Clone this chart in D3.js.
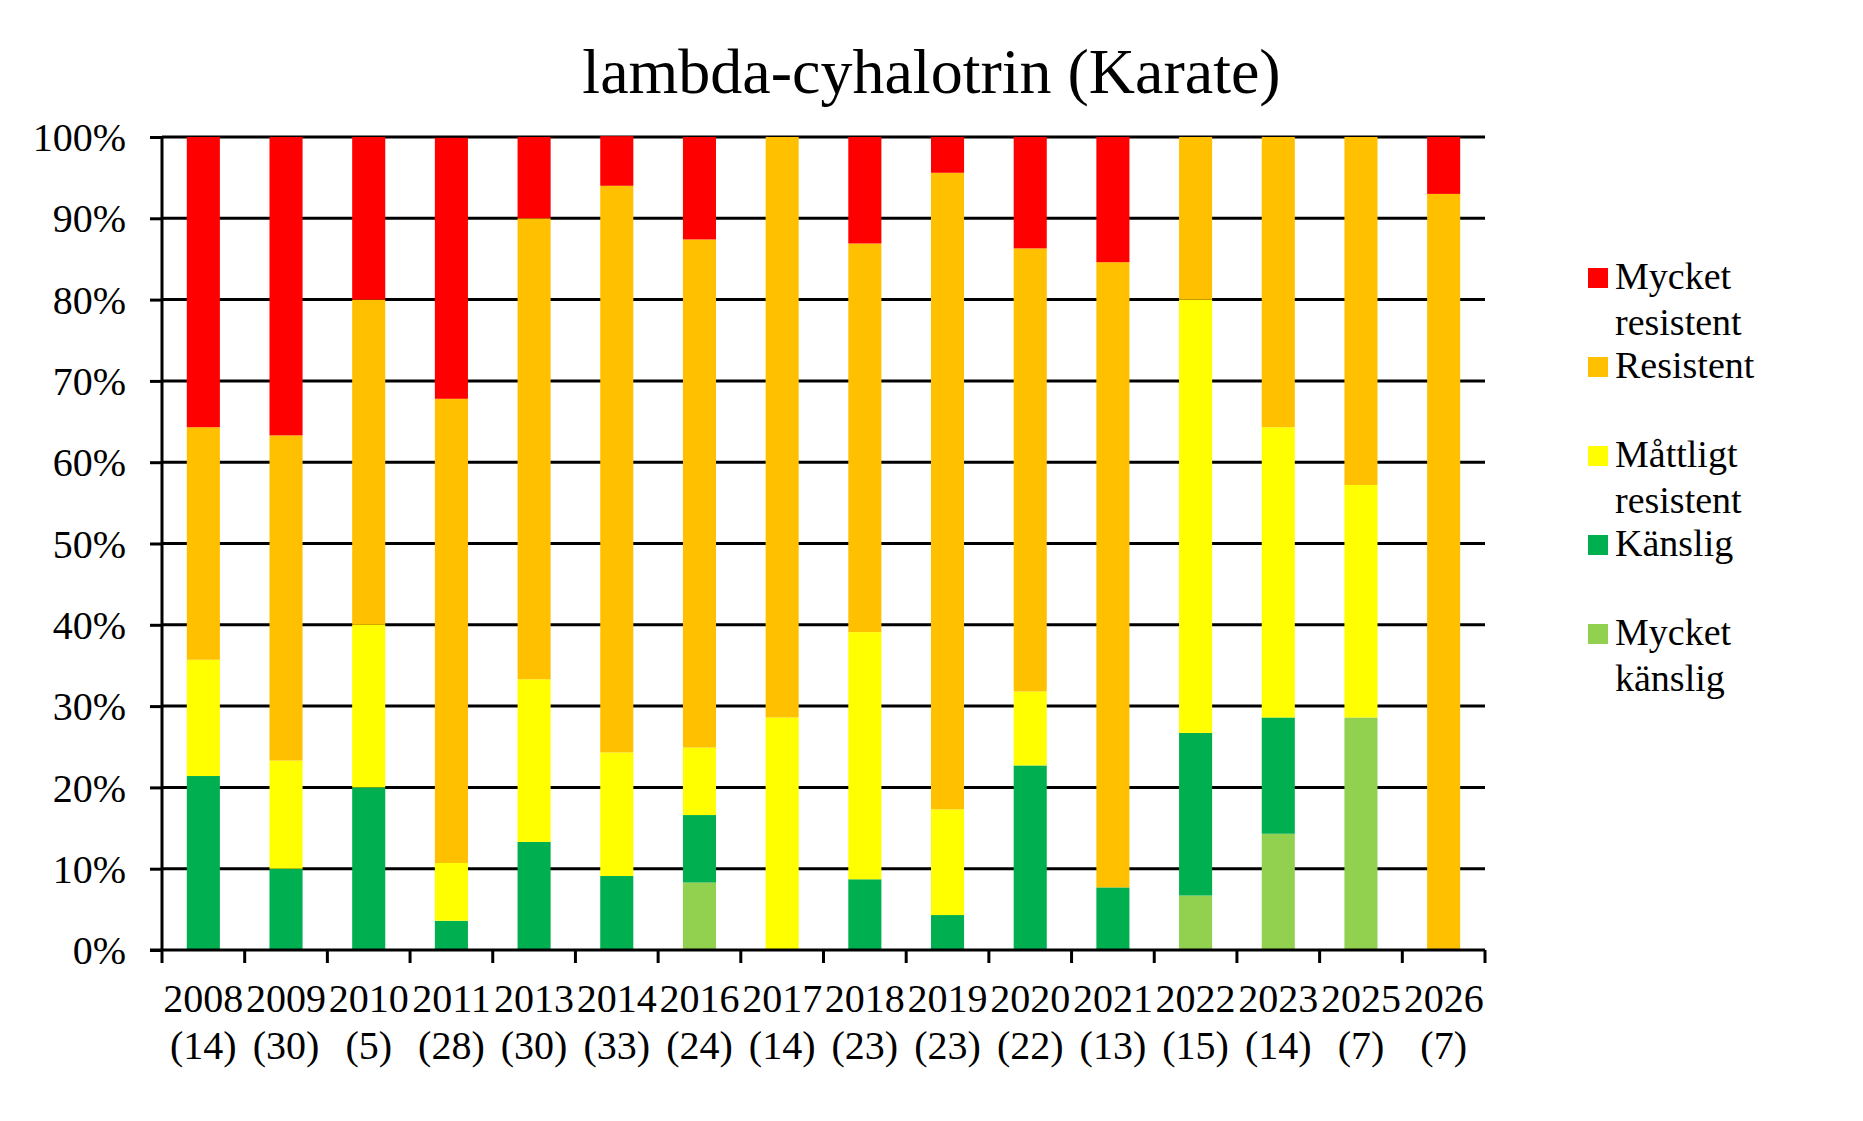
<!DOCTYPE html>
<html>
<head>
<meta charset="utf-8">
<script src="https://cdn.jsdelivr.net/npm/d3@7"></script>
<style>
  body { margin: 0; background: #fff; }
  text { font-family: "Liberation Serif", "Times New Roman", serif; fill: #000; }
</style>
</head>
<body>
<div id="chart"></div>
<script>
// years and sample sizes (n)
const years = ["2008","2009","2010","2011","2013","2014","2016","2017","2018","2019","2020","2021","2022","2023","2025","2026"];
const counts = [14, 30, 5, 28, 30, 33, 24, 14, 23, 23, 22, 13, 15, 14, 7, 7];

// percentage per class
const mycketKanslig   = [0, 0, 0, 0, 0, 0, 8.3, 0, 0, 0, 0, 0, 6.7, 14.3, 28.6, 0];
const kanslig         = [21.4, 10, 20, 3.6, 13.3, 9.1, 8.3, 0, 8.7, 4.3, 22.7, 7.7, 20, 14.3, 0, 0];
const mattligt        = [14.3, 13.3, 20, 7.1, 20, 15.2, 8.3, 28.6, 30.4, 13, 9.1, 0, 53.3, 35.7, 28.6, 0];
const resistent       = [28.6, 40, 40, 57.1, 56.7, 69.7, 62.5, 71.4, 47.8, 78.3, 54.5, 76.9, 20, 35.7, 42.8, 93];
const mycketResistent = [35.7, 36.7, 20, 32.1, 10, 6.1, 12.6, 0, 13.1, 4.4, 13.7, 15.4, 0, 0, 0, 7];

const yTicks = [0, 10, 20, 30, 40, 50, 60, 70, 80, 90, 100];

const seriesDefs = [
  {key: "mk", label: ["Mycket", "känslig"], color: "#92D050", values: mycketKanslig},
  {key: "k", label: ["Känslig"], color: "#00B050", values: kanslig},
  {key: "m", label: ["Måttligt", "resistent"], color: "#FFFF00", values: mattligt},
  {key: "r", label: ["Resistent"], color: "#FFC000", values: resistent},
  {key: "mr", label: ["Mycket", "resistent"], color: "#FF0000", values: mycketResistent}
];

const width = 1863, height = 1121;
const margin = {top: 137, right: 378, bottom: 171, left: 162};
const plotW = width - margin.left - margin.right,
  plotH = height - margin.top - margin.bottom;

const table = years.map((y, i) => {
  let row = {year: y, n: counts[i]};
  seriesDefs.forEach(s => row[s.key] = s.values[i]);
  return row;
});

const stacked = d3.stack().keys(seriesDefs.map(s => s.key))(table);

let svg = d3.select("#chart")
  .append("svg")
  .attr("width", width)
  .attr("height", height);

let x = d3.scaleBand()
  .domain(years)
  .range([0, plotW])
  .paddingInner(0.6)
  .paddingOuter(0.3);

let y = d3.scaleLinear()
  .domain([0, 100])
  .range([plotH, 0]);

// title
svg.append("text")
  .attr("x", width / 2)
  .attr("y", 93)
  .attr("text-anchor", "middle")
  .style("font-size", "64px")
  .text("lambda-cyhalotrin (Karate)");

let g = svg.append("g")
  .attr("transform", "translate(" + margin.left + "," + margin.top + ")");

// gridlines
g.append("g")
  .selectAll("line")
  .data(yTicks.filter(t => t > 0))
  .join("line")
  .attr("x1", 0)
  .attr("x2", plotW)
  .attr("y1", d => y(d))
  .attr("y2", d => y(d))
  .attr("stroke", "#000")
  .attr("stroke-width", 3);

// bars
g.append("g")
  .selectAll("g")
  .data(stacked)
  .join("g")
  .attr("fill", (d, i) => seriesDefs[i].color)
  .selectAll("rect")
  .data(d => d)
  .join("rect")
  .attr("x", d => x(d.data.year))
  .attr("width", x.bandwidth())
  .attr("y", d => y(d[1]))
  .attr("height", d => y(d[0]) - y(d[1]));

// y axis
let yAxis = d3.axisLeft(y)
  .tickValues(yTicks)
  .tickSize(12)
  .tickPadding(24)
  .tickFormat(d => d + "%");

let ya = g.append("g").call(yAxis).attr("font-family", null);
ya.select(".domain").attr("stroke-width", 3).attr("d", "M0," + plotH + "V0");
ya.selectAll(".tick line").attr("stroke-width", 3);
ya.selectAll(".tick text")
  .style("font-family", "Liberation Serif")
  .style("font-size", "40px")
  .attr("dy", "0.34em");

// x axis: ticks on the category boundaries
let xa = g.append("g")
  .attr("transform", "translate(0," + plotH + ")");

xa.append("line")
  .attr("x1", -12)
  .attr("x2", plotW)
  .attr("stroke", "#000")
  .attr("stroke-width", 3);

xa.selectAll("line.tk")
  .data(d3.range(years.length + 1))
  .join("line")
  .attr("class", "tk")
  .attr("x1", i => i * x.step())
  .attr("x2", i => i * x.step())
  .attr("y1", 0)
  .attr("y2", 13)
  .attr("stroke", "#000")
  .attr("stroke-width", 3);

let lbl = xa.selectAll("text.lbl")
  .data(table)
  .join("text")
  .attr("class", "lbl")
  .attr("text-anchor", "middle")
  .style("font-size", "40px")
  .attr("transform", d => "translate(" + (x(d.year) + x.bandwidth() / 2) + ",0)");

lbl.append("tspan").attr("x", 0).attr("y", 62).text(d => d.year);
lbl.append("tspan").attr("x", 0).attr("y", 109).text(d => "(" + d.n + ")");

// legend, top to bottom from mycket resistent
let legend = svg.append("g")
  .attr("transform", "translate(1588,268)");

let items = legend.selectAll("g")
  .data(seriesDefs.slice().reverse())
  .join("g")
  .attr("transform", (d, i) => "translate(0," + (i * 89) + ")");

items.append("rect")
  .attr("width", 20)
  .attr("height", 20)
  .attr("fill", d => d.color);

items.append("text")
  .style("font-size", "38px")
  .selectAll("tspan")
  .data(d => d.label)
  .join("tspan")
  .attr("x", 27)
  .attr("y", (d, i) => 21 + i * 46)
  .text(d => d);
</script>
</body>
</html>
